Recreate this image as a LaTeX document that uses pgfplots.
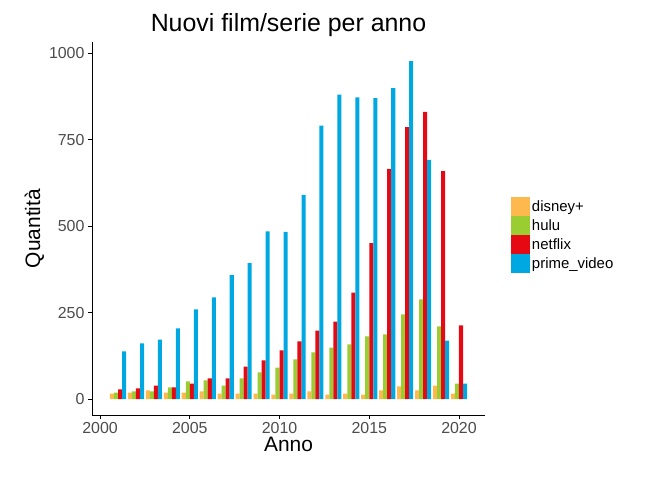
\documentclass[border=0pt]{standalone}
\usepackage{pgfplots}
\pgfplotsset{compat=1.18}
\usepackage{fontspec}
\setmainfont{Liberation Sans}
\definecolor{cd}{HTML}{FDB94D}
\definecolor{ch}{HTML}{9ACD32}
\definecolor{cn}{HTML}{E50914}
\definecolor{cp}{HTML}{00A8E1}
\begin{document}
\begin{tikzpicture}
\useasboundingbox (0,0) rectangle (672bp,480bp);
\begin{axis}[at={(92bp,65bp)}, anchor=south west, scale only axis,
 width=393bp, height=373bp,
 xmin=1999.55, xmax=2021.45, ymin=-46, ymax=1032,
 axis x line*=bottom, axis y line*=left, axis line style={-, thick},
 xtick={2000,2005,2010,2015,2020}, ytick={0,250,500,750,1000},
 /pgf/number format/1000 sep={},
 /pgf/number format/assume math mode=true,
 tick style={black, thick}, tick align=outside, major tick length=4bp,
 ticklabel style={font=\fontsize{16}{18}\selectfont, text=black!70},
 xlabel={Anno}, ylabel={Quantità},
 label style={font=\fontsize{21}{24}\selectfont},
 xlabel style={yshift=4bp}, ylabel style={yshift=-2bp},
 title={Nuovi film/serie per anno}, title style={font=\fontsize{25}{28}\selectfont, yshift=-4bp},
 legend style={at={(1.058,0.483)}, anchor=west, draw=none, fill=none, font=\fontsize{15}{17}\selectfont, row sep=0bp},
 legend cell align=left,
 legend image code/.code={\fill[#1] (0bp,-9bp) rectangle (19bp,10bp);},
]
\addplot[ybar, bar width=0.225, bar shift=-0.3375, fill=cd, draw=none] coordinates {
(2001,16)(2002,19)(2003,25)(2004,19)(2005,19)(2006,22)(2007,16)(2008,16)(2009,16)(2010,13)
(2011,16)(2012,22)(2013,13)(2014,16)(2015,13)(2016,25)(2017,37)(2018,25)(2019,39)(2020,16)};
\addplot[ybar, bar width=0.225, bar shift=-0.1125, fill=ch, draw=none] coordinates {
(2001,19)(2002,22)(2003,22)(2004,34)(2005,51)(2006,54)(2007,39)(2008,60)(2009,77)(2010,91)
(2011,115)(2012,135)(2013,149)(2014,158)(2015,181)(2016,187)(2017,245)(2018,288)(2019,210)(2020,45)};
\addplot[ybar, bar width=0.225, bar shift=0.1125, fill=cn, draw=none] coordinates {
(2001,28)(2002,31)(2003,39)(2004,34)(2005,45)(2006,60)(2007,60)(2008,94)(2009,112)(2010,141)
(2011,167)(2012,198)(2013,224)(2014,308)(2015,451)(2016,665)(2017,786)(2018,830)(2019,659)(2020,213)};
\addplot[ybar, bar width=0.225, bar shift=0.3375, fill=cp, draw=none] coordinates {
(2001,138)(2002,161)(2003,172)(2004,204)(2005,259)(2006,294)(2007,358)(2008,393)(2009,485)(2010,483)
(2011,590)(2012,790)(2013,880)(2014,872)(2015,870)(2016,899)(2017,977)(2018,691)(2019,169)(2020,45)};
\legend{disney+,hulu,netflix,prime\_video}
\end{axis}
\end{tikzpicture}
\end{document}
